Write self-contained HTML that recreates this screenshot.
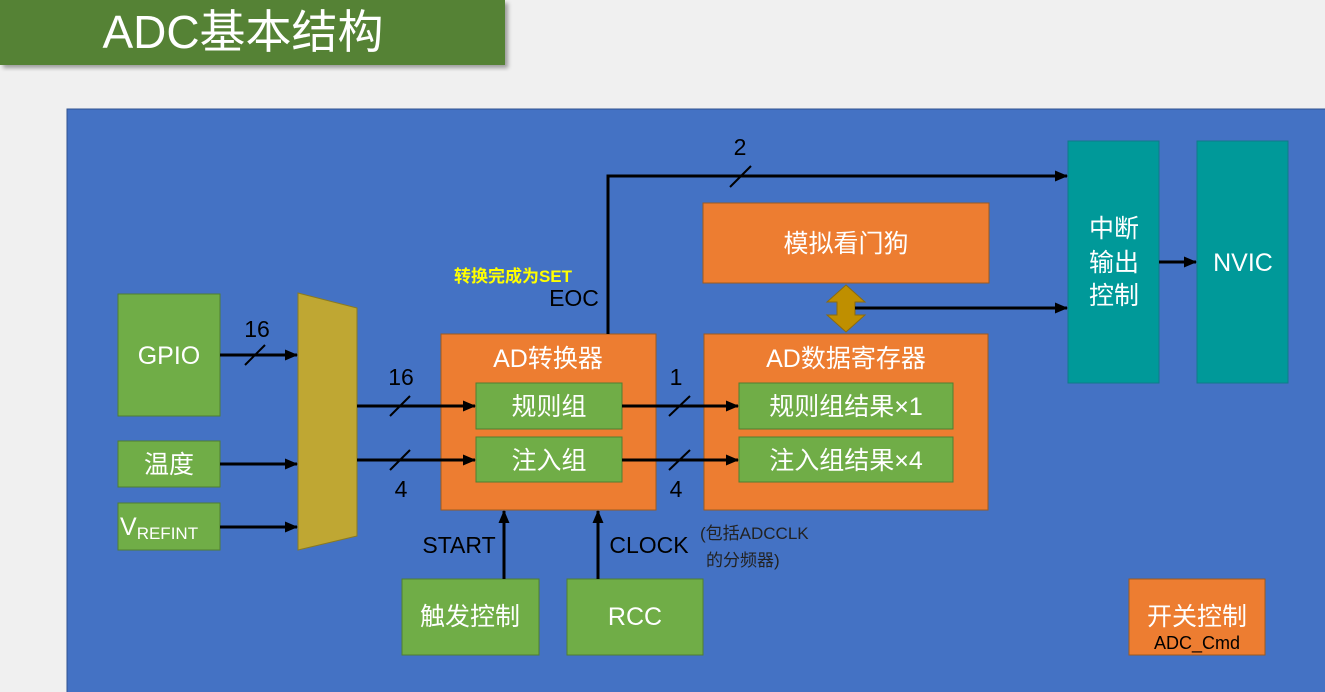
<!DOCTYPE html>
<html><head><meta charset="utf-8"><style>
body{margin:0;width:1325px;height:692px;overflow:hidden;background:#f0f0f0}
svg{display:block}
text{font-family:"Liberation Sans","Noto Sans CJK SC",sans-serif}
</style></head><body>
<svg width="1325" height="692" viewBox="0 0 1325 692" xmlns="http://www.w3.org/2000/svg">
<defs>
<marker id="a" markerWidth="13" markerHeight="11" refX="12" refY="5.5" orient="auto" markerUnits="userSpaceOnUse"><path d="M0,0 L13,5.5 L0,11 z" fill="#000"/></marker>
<filter id="sh"><feDropShadow dx="3" dy="3" stdDeviation="2" flood-opacity="0.35"/></filter>
</defs>
<rect x="0" y="0" width="505" height="65" fill="#548235" filter="url(#sh)"/>
<text x="243" y="48" font-size="46" fill="#fff" text-anchor="middle">ADC基本结构</text>
<rect x="67" y="109" width="1260" height="585" fill="#4472c4" stroke="#2f528f"/>
<g stroke="#507e32" fill="#70ad47">
<rect x="118" y="294" width="102" height="122"/>
<rect x="118" y="441" width="102" height="46"/>
<rect x="118" y="503" width="102" height="47"/>
<rect x="402" y="579" width="137" height="76"/>
<rect x="567" y="579" width="136" height="76"/>
</g>
<polygon points="298,293 357,308 357,536 298,550" fill="#bfa733" stroke="#8a7a20"/>
<g stroke="#9c5a20" fill="#ed7d31">
<rect x="441" y="334" width="215" height="176"/>
<rect x="704" y="334" width="284" height="176"/>
<rect x="703" y="203" width="286" height="80"/>
<rect x="1129" y="579" width="136" height="76"/>
</g>
<g stroke="#507e32" fill="#70ad47">
<rect x="476" y="383" width="146" height="46"/>
<rect x="476" y="437" width="146" height="45"/>
<rect x="739" y="383" width="214" height="46"/>
<rect x="739" y="437" width="214" height="45"/>
</g>
<rect x="1068" y="141" width="91" height="242" fill="#009999" stroke="#107a8a"/>
<rect x="1197" y="141" width="91" height="242" fill="#009999" stroke="#107a8a"/>
<polygon points="846,285 865,302 855,302 855,315 865,315 846,332 827,315 837,315 837,302 827,302" fill="#bf8f00" stroke="#8a6a10"/>
<g stroke="#000" stroke-width="3" fill="none">
<line x1="220" y1="355" x2="297" y2="355" marker-end="url(#a)"/>
<line x1="220" y1="464" x2="297" y2="464" marker-end="url(#a)"/>
<line x1="220" y1="527" x2="297" y2="527" marker-end="url(#a)"/>
<line x1="357" y1="406" x2="475" y2="406" marker-end="url(#a)"/>
<line x1="357" y1="460" x2="475" y2="460" marker-end="url(#a)"/>
<line x1="622" y1="406" x2="738" y2="406" marker-end="url(#a)"/>
<line x1="622" y1="460" x2="738" y2="460" marker-end="url(#a)"/>
<polyline points="608,334 608,176 1067,176" marker-end="url(#a)"/>
<line x1="855" y1="308" x2="1067" y2="308" marker-end="url(#a)"/>
<line x1="1159" y1="262" x2="1196" y2="262" marker-end="url(#a)"/>
<line x1="504" y1="579" x2="504" y2="511" marker-end="url(#a)"/>
<line x1="598" y1="579" x2="598" y2="511" marker-end="url(#a)"/>
</g>
<g stroke="#000" stroke-width="2">
<line x1="245" y1="365" x2="265" y2="345"/>
<line x1="390" y1="416" x2="410" y2="396"/>
<line x1="390" y1="470" x2="410" y2="450"/>
<line x1="669" y1="416" x2="690" y2="396"/>
<line x1="669" y1="470" x2="690" y2="450"/>
<line x1="730" y1="187" x2="751" y2="166"/>
</g>
<g font-size="23" fill="#000" text-anchor="middle">
<text x="257" y="337">16</text>
<text x="401" y="385">16</text>
<text x="401" y="497">4</text>
<text x="676" y="385">1</text>
<text x="676" y="497">4</text>
<text x="740" y="155">2</text>
<text x="574" y="306">EOC</text>
<text x="459" y="553">START</text>
<text x="649" y="553">CLOCK</text>
</g>
<text x="513" y="282" font-size="17" fill="#ffff00" font-weight="bold" text-anchor="middle">转换完成为SET</text>
<text x="700" y="539" font-size="17" fill="#222">(包括ADCCLK</text>
<text x="706" y="566" font-size="17" fill="#222">的分频器)</text>
<g font-size="25" fill="#fff" text-anchor="middle">
<text x="169" y="364">GPIO</text>
<text x="169" y="473">温度</text>
<text x="548" y="367">AD转换器</text>
<text x="549" y="415">规则组</text>
<text x="549" y="469">注入组</text>
<text x="846" y="367">AD数据寄存器</text>
<text x="846" y="415">规则组结果×1</text>
<text x="846" y="469">注入组结果×4</text>
<text x="846" y="252">模拟看门狗</text>
<text x="1114" y="237">中断</text>
<text x="1114" y="271">输出</text>
<text x="1114" y="304">控制</text>
<text x="1243" y="271">NVIC</text>
<text x="470" y="625">触发控制</text>
<text x="635" y="625">RCC</text>
<text x="1197" y="625">开关控制</text>
</g>
<text x="120" y="535" font-size="25" fill="#fff">V<tspan font-size="17" dy="4">REFINT</tspan></text>
<text x="1197" y="649" font-size="18" fill="#000" text-anchor="middle">ADC_Cmd</text>
</svg>
</body></html>
